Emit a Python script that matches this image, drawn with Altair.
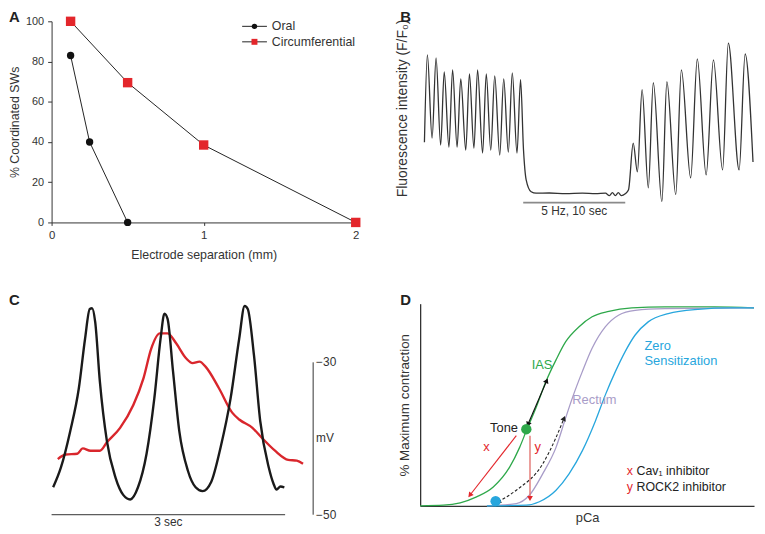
import math
import altair as alt
import pandas as pd

FONT = "Liberation Sans"
TXT = "#333333"

# ---------------- Panel A data ----------------
series_names = ["Oral", "Circumferential"]
oral_sep = [0.125, 0.25, 0.5]
oral_pct = [83, 40, 0]
circ_sep = [0.125, 0.5, 1.0, 2.0]
circ_pct = [100, 69.5, 38.5, 0]
a_xticks = [0, 1, 2]
a_yticks = [0, 20, 40, 60, 80, 100]

# ---------------- Panel B data (time in s, F/F0) ----------------
b_time = [0.03, 0.32, 0.78, 1.17, 1.62, 1.97, 2.43, 2.79, 3.23, 3.59,
          4.08, 4.44, 4.88, 5.24, 5.73, 6.09, 6.53, 6.92, 7.41, 7.80,
          8.25, 8.64, 9.10, 9.45, 9.74, 10.0, 10.49, 10.97, 12.26, 13.88,
          15.5, 16.8, 17.77, 18.16, 18.45, 18.74, 19.03, 19.32, 19.71, 20.03,
          20.49, 20.9, 21.36, 21.97, 22.46, 23.3, 23.79, 24.66, 25.21, 26.12,
          26.77, 27.64, 28.35, 29.25, 29.81, 30.87, 31.46, 32.23]
b_val = [1.52, 2.40, 1.56, 2.37, 1.49, 2.23, 1.47, 2.25, 1.47, 2.16,
         1.44, 2.21, 1.46, 2.25, 1.41, 2.21, 1.44, 2.19, 1.39, 2.16,
         1.42, 2.22, 1.41, 2.15, 1.44, 1.14, 1.02, 1.005, 1.007, 1.0,
         1.005, 1.0, 1.005, 0.98, 1.01, 0.98, 1.01, 0.98, 1.0, 1.04,
         1.51, 1.22, 2.05, 1.06, 2.12, 0.92, 2.13, 0.99, 2.25, 1.16,
         2.36, 1.19, 2.35, 1.24, 2.52, 1.24, 2.41, 1.32]
b_stim = [9.71, 19.71]          # stimulation bar (s)
b_stim_level = 0.91
b_stim_label = "5 Hz, 10 sec"

# ---------------- Panel C data (time in s, mV) ----------------
c_black_t = [0.02, 0.12, 0.24, 0.35, 0.43, 0.49, 0.52, 0.56, 0.62, 0.71,
             0.82, 0.92, 1.01, 1.11, 1.22, 1.32, 1.40, 1.45, 1.49, 1.56,
             1.64, 1.75, 1.85, 1.94, 2.05, 2.17, 2.30, 2.41, 2.48, 2.52,
             2.60, 2.68, 2.79, 2.85, 2.89, 2.94, 2.99]
c_black_mv = [-46.4, -43.8, -39.0, -33.4, -26.9, -23.0, -22.9, -24.7, -32.5, -40.3,
              -45.1, -47.4, -48.0, -46.4, -42.0, -34.7, -26.9, -23.6, -24.3, -31.2,
              -39.0, -44.2, -46.4, -46.9, -45.7, -41.2, -34.7, -26.9, -22.6, -23.0,
              -29.1, -37.7, -43.8, -45.9, -46.7, -46.3, -46.4]
c_red_t = [0.08, 0.18, 0.33, 0.40, 0.50, 0.62, 0.71, 0.88, 1.05, 1.18,
           1.28, 1.39, 1.49, 1.60, 1.73, 1.81, 1.90, 1.98, 2.15, 2.32,
           2.41, 2.58, 2.70, 2.87, 3.04, 3.15, 3.23]
c_red_mv = [-42.7, -42.1, -42.0, -41.3, -41.6, -41.6, -40.5, -38.6, -35.6, -32.1,
            -28.2, -26.2, -26.2, -27.5, -29.5, -30.1, -29.9, -30.6, -33.4, -36.6,
            -37.5, -38.6, -39.9, -41.6, -42.8, -42.9, -43.3]
c_time_bar = [0, 3]
c_mv_bar = [-30, -50]
c_bar_t = 3.36

# ---------------- Panel D data (schematic, pCa axis 0-100, % max 0-100) ----------------
ias_x = [0, 7.0, 12.0, 16.9, 21.9, 26.8, 29.8, 31.8, 34.7, 37.7, 40.7, 43.6, 47.6, 51.5, 56.5, 63.4, 73.3, 88.1, 100]
ias_y = [0, 0.3, 1.5, 4.4, 9.3, 19.1, 28.9, 37.1, 48.5, 61.6, 72.2, 81.2, 88.6, 93.5, 96.2, 97.9, 98.4, 98.4, 97.9]
rect_x = [20, 28.8, 32.7, 36.7, 40.7, 43.6, 45.6, 48.6, 51.5, 55.5, 59.4, 64.4, 73.3, 100]
rect_y = [0, 1.1, 5.2, 15.8, 28.9, 43.6, 53.4, 66.5, 77.9, 88.6, 94.3, 96.7, 97.5, 97.9]
zero_x = [20, 31.8, 35.7, 40.7, 44.6, 48.6, 52.5, 55.5, 58.5, 61.4, 64.4, 68.3, 74.3, 83.2, 93.1, 100]
zero_y = [0, 0.3, 2.0, 7.7, 15.8, 27.3, 42.0, 55.0, 66.5, 76.3, 84.5, 91.0, 95.1, 97.2, 97.9, 97.9]
tone_pt = (31.8, 37.9)
zero_pt = (22.6, 2.3)
arrow_solid = [(32.3, 40.3), (37.9, 61.9)]
arrow_dash = [(23.4, 2.0), (28.8, 7.7), (36.7, 20.7), (40.7, 33.8), (43.1, 43.3)]
arrow_x = [(28.8, 34.7), (14.9, 5.2)]
arrow_y = [(32.9, 34.7), (32.9, 3.6)]

GREEN, PURPLE, BLUE, RED = "#2ea84a", "#a89cc8", "#27a6dd", "#e3262b"

# ---------------- sizes ----------------
A_W, A_H = 307, 203
B_W, B_H = 337, 175
C_W, C_H = 264, 213
D_W, D_H = 337, 204

# panel letters (placed in each panel's data space, just above / left of the plot)
letter_pos = {"A": (-0.28, 105.4), "B": (-2.33, 2.85), "C": (-0.547, -20.87), "D": (-5.93, 105.0)}


def letter_layer(letter, xscale, yscale, xaxis=None, yaxis=None):
    lx, ly = letter_pos[letter]
    df = pd.DataFrame({"lx": [lx], "ly": [ly], "t": [letter]})
    return alt.Chart(df).mark_text(align="left", baseline="top", fontSize=15, fontWeight="bold",
                                   color="#222222", font=FONT).encode(
        x=alt.X("lx:Q", scale=xscale, axis=xaxis), y=alt.Y("ly:Q", scale=yscale, axis=yaxis), text="t:N")


# ======================= Panel A =======================
dfA = pd.DataFrame({
    "sep": oral_sep + circ_sep,
    "pct": oral_pct + circ_pct,
    "series": [series_names[0]] * len(oral_sep) + [series_names[1]] * len(circ_sep),
})
xA_scale = alt.Scale(domain=[0, 2], nice=False, zero=False)
yA_scale = alt.Scale(domain=[0, 100], nice=False)
xA_axis = alt.Axis(values=[float(v) for v in a_xticks], title="Electrode separation (mm)", grid=False,
                   tickSize=3, labelPadding=4, titlePadding=8, labelFontSize=11.5,
                   titleFontSize=12.5, labelOverlap=False, labelFlush=False,
                   labelExpr="round(datum.value) + ''")
yA_axis = alt.Axis(values=a_yticks, title="% Coordinated SWs", grid=False, tickSize=4,
                   labelPadding=4, titlePadding=4, labelFontSize=11, titleFontSize=12.5,
                   labelOverlap=False)
xA = alt.X("sep:Q", scale=xA_scale, axis=xA_axis)
yA = alt.Y("pct:Q", scale=yA_scale, axis=yA_axis)
baseA = alt.Chart(dfA)
linesA = baseA.mark_line(color="#222222", strokeWidth=1).encode(x=xA, y=yA, detail="series:N")
oralA = baseA.transform_filter(alt.datum.series == series_names[0]).mark_point(
    shape="circle", filled=True, size=55, color="#111111", opacity=1).encode(x=xA, y=yA)
circA = baseA.transform_filter(alt.datum.series == series_names[1]).mark_point(
    shape="square", filled=True, size=90, color=RED, opacity=1).encode(x=xA, y=yA)

leg_x0, leg_x1, leg_xm, leg_xt = 1.253, 1.416, 1.334, 1.448
legA = pd.DataFrame({"series": series_names, "ly": [97.5, 89.8],
                     "x0": [leg_x0] * 2, "x1": [leg_x1] * 2, "xm": [leg_xm] * 2, "xt": [leg_xt] * 2})
legLine = alt.Chart(legA).mark_rule(color="#222222", strokeWidth=1).encode(
    x=alt.X("x0:Q", scale=xA_scale, axis=xA_axis), x2="x1:Q", y=alt.Y("ly:Q", scale=yA_scale, axis=yA_axis))
legOral = alt.Chart(legA).transform_filter(alt.datum.series == series_names[0]).mark_point(
    filled=True, opacity=1, size=30, shape="circle", color="#111111").encode(
    x=alt.X("xm:Q", scale=xA_scale, axis=xA_axis), y=alt.Y("ly:Q", scale=yA_scale, axis=yA_axis))
legCirc = alt.Chart(legA).transform_filter(alt.datum.series == series_names[1]).mark_point(
    filled=True, opacity=1, size=36, shape="square", color=RED).encode(
    x=alt.X("xm:Q", scale=xA_scale, axis=xA_axis), y=alt.Y("ly:Q", scale=yA_scale, axis=yA_axis))
legTxt = alt.Chart(legA).mark_text(align="left", baseline="middle", fontSize=12.5, color=TXT, font=FONT).encode(
    x=alt.X("xt:Q", scale=xA_scale, axis=xA_axis), y=alt.Y("ly:Q", scale=yA_scale, axis=yA_axis), text="series:N")

panelA = alt.layer(linesA, oralA, circA, legLine, legOral, legCirc, legTxt,
                   letter_layer("A", xA_scale, yA_scale, xA_axis, yA_axis)).properties(width=A_W, height=A_H)

# ======================= Panel B =======================
xB_scale = alt.Scale(domain=[-0.39, 32.33], nice=False, zero=False)
yB_scale = alt.Scale(domain=[0.99, 2.74], nice=False, zero=False)
dfB = pd.DataFrame({"t": b_time, "f": b_val})
yB_axis = alt.Axis(title="Fluorescence intensity (F/F\u2080)", labels=False, ticks=False, domain=False,
                   grid=False, titlePadding=11, titleFontSize=14)
traceB = alt.Chart(dfB).mark_line(color="#333333", strokeWidth=1.3, interpolate="monotone").encode(
    x=alt.X("t:Q", scale=xB_scale, axis=None), y=alt.Y("f:Q", scale=yB_scale, axis=yB_axis))
dfBbar = pd.DataFrame({"t0": [b_stim[0]], "t1": [b_stim[1]], "tm": [(b_stim[0] + b_stim[1]) / 2],
                       "lev": [b_stim_level], "lab": [b_stim_label]})
barB = alt.Chart(dfBbar).mark_rule(color="#8a8a8a", strokeWidth=2).encode(
    x=alt.X("t0:Q", scale=xB_scale, axis=None), x2="t1:Q",
    y=alt.Y("lev:Q", scale=yB_scale, axis=yB_axis))
barBtxt = alt.Chart(dfBbar).mark_text(fontSize=12, color=TXT, baseline="top", dy=3, font=FONT).encode(
    x=alt.X("tm:Q", scale=xB_scale, axis=None),
    y=alt.Y("lev:Q", scale=yB_scale, axis=yB_axis), text="lab:N")
panelB = alt.layer(traceB, barB, barBtxt, letter_layer("B", xB_scale, yB_scale, None, yB_axis)).properties(
    width=B_W, height=B_H)

# ======================= Panel C =======================
xC_scale = alt.Scale(domain=[0, 3.36], nice=False, zero=False)
yC_scale = alt.Scale(domain=[-50, -22.3], nice=False, zero=False)


def xC(f):
    return alt.X(f, scale=xC_scale, axis=None)


def yC(f):
    return alt.Y(f, scale=yC_scale, axis=None)


dfCb = pd.DataFrame({"t": c_black_t, "mv": c_black_mv})
dfCr = pd.DataFrame({"t": c_red_t, "mv": c_red_mv})
blackC = alt.Chart(dfCb).mark_line(color="#1a1a1a", strokeWidth=2.4, interpolate="monotone").encode(
    x=xC("t:Q"), y=yC("mv:Q"))
redC = alt.Chart(dfCr).mark_line(color="#d9262c", strokeWidth=2.4, interpolate="monotone").encode(
    x=xC("t:Q"), y=yC("mv:Q"))
dfCt = pd.DataFrame({"t0": [c_time_bar[0]], "t1": [c_time_bar[1]], "tm": [sum(c_time_bar) / 2],
                     "lev": [c_mv_bar[1]], "lab": ["3 sec"]})
tbar = alt.Chart(dfCt).mark_rule(color="#333333", strokeWidth=1).encode(
    x=xC("t0:Q"), x2="t1:Q", y=yC("lev:Q"))
tbarTxt = alt.Chart(dfCt).mark_text(fontSize=12, color=TXT, baseline="top", dy=2, font=FONT).encode(
    x=xC("tm:Q"), y=yC("lev:Q"), text="lab:N")
dfCv = pd.DataFrame({"tb": [c_bar_t], "v0": [c_mv_bar[0]], "v1": [c_mv_bar[1]]})
vbar = alt.Chart(dfCv).mark_rule(color="#333333", strokeWidth=1).encode(
    x=xC("tb:Q"), y=yC("v0:Q"), y2="v1:Q")
dfCl = pd.DataFrame({"tb": [c_bar_t] * 3, "mv": [c_mv_bar[0], c_mv_bar[1], sum(c_mv_bar) / 2],
                     "lab": ["\u221230", "\u221250", "mV"]})
vbarTxt = alt.Chart(dfCl).mark_text(fontSize=12, color=TXT, align="left", baseline="middle", dx=3, font=FONT).encode(
    x=xC("tb:Q"), y=yC("mv:Q"), text="lab:N")
panelC = alt.layer(redC, blackC, tbar, tbarTxt, vbar, vbarTxt, letter_layer("C", xC_scale, yC_scale)).properties(
    width=C_W, height=C_H)

# ======================= Panel D =======================
PX_X, PX_Y = D_W / 100.0, D_H / 100.0
xD_scale = alt.Scale(domain=[0, 100], nice=False, zero=False)
yD_scale = alt.Scale(domain=[0, 100], nice=False, zero=False)
xD_axis = alt.Axis(title="pCa", labels=False, ticks=False, grid=False,
                   titlePadding=6, titleFontSize=13, domainWidth=1.3)
yD_axis = alt.Axis(title="% Maximum contraction", labels=False, ticks=False,
                   grid=False, titlePadding=9, titleFontSize=13.5, domainWidth=1.3)
xD = alt.X("x:Q", scale=xD_scale, axis=xD_axis)
yD = alt.Y("y:Q", scale=yD_scale, axis=yD_axis)


def curve(xs, ys, color):
    return alt.Chart(pd.DataFrame({"x": xs, "y": ys})).mark_line(
        color=color, strokeWidth=1.3, interpolate="monotone").encode(x=xD, y=yD)


def heading(p_from, p_to):
    dxp = (p_to[0] - p_from[0]) * PX_X
    dyp = -(p_to[1] - p_from[1]) * PX_Y
    return math.degrees(math.atan2(dxp, -dyp)) % 360


def arrow_layers(pts, color, dash=None, both=False, head_color=None, width=1.1):
    df = pd.DataFrame({"x": [p[0] for p in pts], "y": [p[1] for p in pts]})
    kw = dict(color=color, strokeWidth=width, interpolate="monotone")
    if dash:
        kw["strokeDash"] = dash
    line = alt.Chart(df).mark_line(**kw).encode(x=xD, y=yD)
    heads = [{"x": pts[-1][0], "y": pts[-1][1], "ang": heading(pts[-2], pts[-1])}]
    if both:
        heads.append({"x": pts[0][0], "y": pts[0][1], "ang": heading(pts[1], pts[0])})
    hd = alt.Chart(pd.DataFrame(heads)).mark_point(
        shape="triangle-up", filled=True, size=34, opacity=1, color=head_color or color).encode(
        x=xD, y=yD, angle=alt.Angle("ang:Q", scale=None))
    return [line, hd]


def dot(pt, color):
    return alt.Chart(pd.DataFrame({"x": [pt[0]], "y": [pt[1]]})).mark_point(
        filled=True, size=110, opacity=1, color=color, shape="circle").encode(x=xD, y=yD)


greenC = curve(ias_x, ias_y, GREEN)
purpC = curve(rect_x, rect_y, PURPLE)
blueC = curve(zero_x, zero_y, BLUE)

arrows = (arrow_layers(arrow_solid, "#111111", both=True)
          + arrow_layers(arrow_dash, "#222222", dash=[3, 2], both=True)
          + arrow_layers(arrow_x, RED)
          + arrow_layers(arrow_y, "#e27470", head_color=RED, width=1.4))


def label(txt, x, y, color, align="center", size=13):
    return alt.Chart(pd.DataFrame({"x": [x], "y": [y], "t": [txt]})).mark_text(
        color=color, align=align, baseline="middle", fontSize=size, font=FONT).encode(x=xD, y=yD, text="t:N")


labelsD = [
    label("Tone", 29.3, 38.4, "#222222", align="right"),
    label("x", 19.9, 29.3, RED),
    label("y", 35.2, 29.3, RED),
    label("IAS", 36.5, 69.8, GREEN),
    label("Rectum", 52.2, 52.1, PURPLE),
    label("Zero", 67.2, 78.8, BLUE, align="left"),
    label("Sensitization", 67.2, 71.7, BLUE, align="left"),
    label("x", 61.9, 17.0, RED, align="left", size=12.5),
    label("Cav\u2081 inhibitor", 64.8, 17.0, "#222222", align="left", size=12.5),
    label("y", 61.9, 9.3, RED, align="left", size=12.5),
    label("ROCK2 inhibitor", 64.8, 9.3, "#222222", align="left", size=12.5),
]

letterD = letter_layer("D", xD_scale, yD_scale, xD_axis, yD_axis)
panelD = alt.layer(greenC, purpC, blueC, *arrows, dot(tone_pt, GREEN), dot(zero_pt, BLUE), *labelsD,
                   letterD).properties(width=D_W, height=D_H)

chart = alt.concat(panelA, panelB, panelC, panelD, columns=2,
                   spacing=alt.RowColnumber(row=82, column=65), bounds="flush", align="each").properties(
    padding=0
).configure(font=FONT).configure_view(stroke=None).configure_axis(
    labelColor=TXT, titleColor=TXT, domainColor="#333333", tickColor="#333333",
    titleFontWeight="normal", labelFont=FONT, titleFont=FONT)

chart.save("out.html", embed_options={"renderer": "svg", "actions": False})
